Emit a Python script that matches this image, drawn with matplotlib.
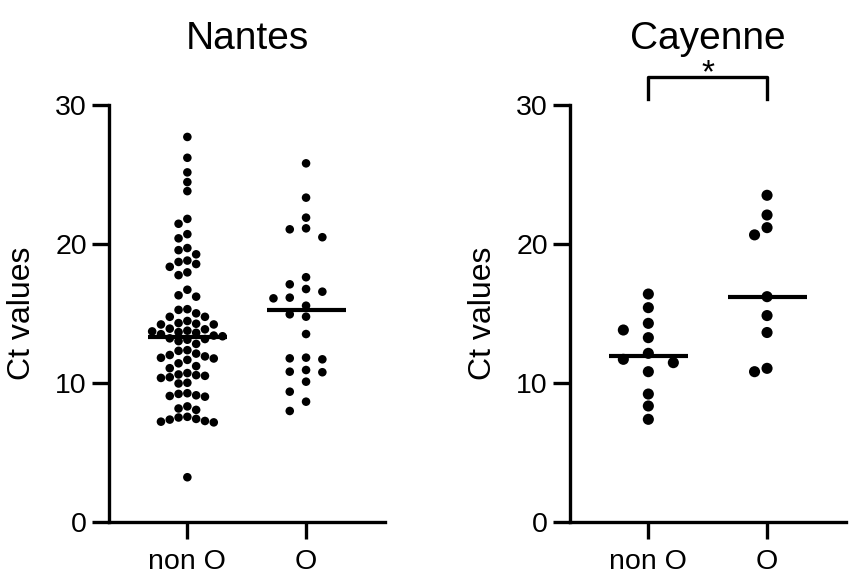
import numpy as np
import matplotlib
matplotlib.use("Agg")
import matplotlib.pyplot as plt

plt.rcParams['font.family'] = ['Liberation Sans', 'DejaVu Sans']

groups = ["non O", "O"]
titles = ["Nantes", "Cayenne"]

nantes_non_o = [
    27.7, 26.2, 25.15, 24.45, 23.8, 21.8, 21.45, 20.7, 20.4, 19.7,
    19.55, 19.25, 18.8, 18.7, 18.55, 18.35, 17.95, 17.75, 16.7, 16.3,
    16.2, 15.3, 15.25, 15.0, 14.75, 14.75, 14.45, 14.3, 14.25, 14.2,
    14.2, 13.9, 13.85, 13.75, 13.7, 13.65, 13.6, 13.5, 13.4, 13.35,
    13.2, 13.15, 13.1, 13.0, 12.8, 12.35, 12.3, 12.1, 12.0, 11.9,
    11.8, 11.75, 11.65, 11.4, 11.2, 11.05, 10.7, 10.6, 10.55, 10.5,
    10.4, 10.35, 10.0, 9.95, 9.25, 9.2, 9.1, 9.05, 9.0, 8.3,
    8.15, 8.05, 7.55, 7.5, 7.4, 7.35, 7.25, 7.2, 7.15, 3.2,
]
nantes_o = [
    25.8, 23.33, 21.89, 21.12, 21.05, 20.48, 17.6, 17.09, 16.75, 16.56,
    16.08, 16.13, 15.55, 14.76, 14.93, 13.51, 11.76, 11.69, 11.81, 10.76,
    10.92, 10.8, 10.08, 9.36, 8.64, 7.97,
]
cayenne_non_o = [16.39, 15.41, 14.28, 13.25, 12.12, 10.8, 8.33, 7.37, 13.8, 11.69, 11.45, 9.19]
cayenne_o = [23.5, 22.08, 21.17, 20.65, 16.2, 14.84, 13.62, 10.8, 11.04]

panels = [
    [nantes_non_o, nantes_o],
    [cayenne_non_o, cayenne_o],
]

# pixel scales of the axes (276 px wide over 2.325 units, 416.7 px tall over 30 units)
PX_X = 276 / 2.325
PX_Y = 416.7 / 30


def swarm(values, step, diam):
    # place points on discrete columns, nearest column to the centre that is free
    order = np.argsort(values)[::-1]
    placed = []
    offs = np.zeros(len(values))
    for i in order:
        y = values[i] * PX_Y
        for k in [0, -1, 1, -2, 2, -3, 3, -4, 4, -5, 5, -6, 6]:
            x = k * step
            if all((x - px) ** 2 + (y - py) ** 2 >= (diam * 0.97) ** 2 for px, py in placed):
                break
        placed.append((x, y))
        offs[i] = x / PX_X
    return offs


steps = [[8.8, 16.3], [25.0, 12.5]]
diams = [[8.6, 11.0], [11.0, 11.0]]
sizes = [38, 64]

fig = plt.figure(figsize=(8.51, 5.76), dpi=100)
ax_pos = [[0.1281, 0.0943, 0.3243, 0.7234], [0.6698, 0.0943, 0.3243, 0.7234]]

for p, data in enumerate(panels):
    ax = fig.add_axes(ax_pos[p])
    for g, vals in enumerate(data):
        vals = np.array(vals)
        x = g + swarm(vals, steps[p][g], diams[p][g])
        ax.scatter(x, vals, s=sizes[p], color='black', edgecolors='none', zorder=3, clip_on=False)
        med = np.median(vals)
        ax.plot([g - 0.333, g + 0.333], [med, med], color='black', linewidth=3, solid_capstyle='butt', zorder=4)

    ax.set_xlim(-0.66, 1.665)
    ax.set_ylim(0, 30)
    ax.set_xticks([0, 1])
    ax.set_xticklabels(groups)
    ax.set_yticks([0, 10, 20, 30])
    ax.spines['top'].set_visible(False)
    ax.spines['right'].set_visible(False)
    for s in ['left', 'bottom']:
        ax.spines[s].set_linewidth(2.4)
    ax.tick_params(axis='both', length=12, width=2.4, labelsize=20.5)
    ax.tick_params(axis='y', pad=4)
    ax.tick_params(axis='x', pad=8)
    ax.set_ylabel("Ct values", fontsize=23, labelpad=13)
    ax.set_title(titles[p], fontsize=28, pad=40)

    if p == 1:
        ax.plot([0.0, 0.0, 1.0, 1.0], [30.4, 32.0, 32.0, 30.4], color='black',
                linewidth=2.4, clip_on=False)
        ax.text(0.5, 31.65, "*", fontsize=24, ha='center', va='baseline')

fig.savefig("out.png", dpi=100)
